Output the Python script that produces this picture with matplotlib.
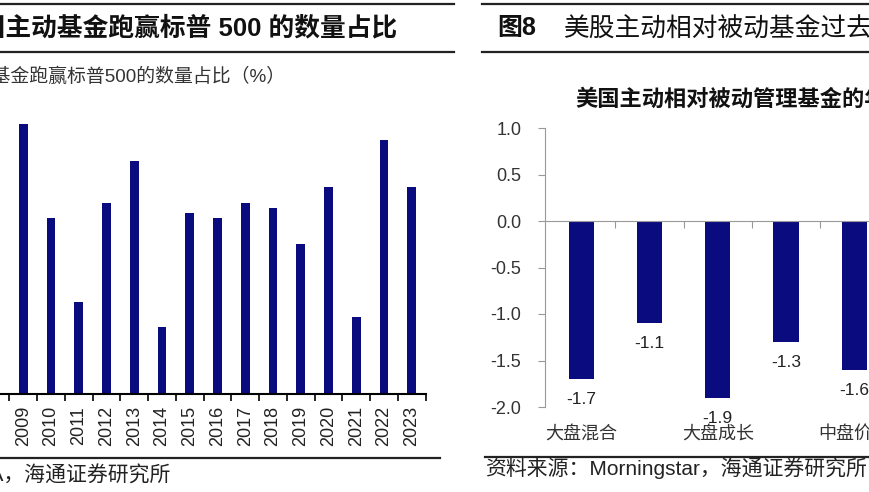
import matplotlib
matplotlib.use('Agg')
import matplotlib.pyplot as plt
from matplotlib.lines import Line2D
import matplotlib.transforms as mtransforms
import numpy as np

plt.rcParams['font.family'] = ['Liberation Sans', 'Noto Sans CJK SC']

# left panel: share of active funds beating the S&P 500 (%)
years = [str(y) for y in range(2008, 2024)]
beat_pct = [44.9, 52.9, 34.5, 18.0, 37.5, 45.7, 13.1, 35.5,
            34.5, 37.5, 36.5, 29.4, 40.6, 15.1, 49.8, 40.6]

# right panel: active vs passive excess return
styles = ['大盘混合', '大盘价值', '大盘成长', '中盘混合', '中盘价值']
excess = [-1.7, -1.1, -1.9, -1.3, -1.6]
ticks_y = [-2.0, -1.5, -1.0, -0.5, 0.0, 0.5, 1.0]

NAVY = '#0b0b80'
W, H = 870, 492


def fx(px):
    return px / W


def fy(py):
    return 1 - py / H


fig = plt.figure(figsize=(8.7, 4.92), dpi=100)

# ---- left chart
ax1 = fig.add_axes([fx(-18.3), fy(394), 443.9 / W, 306 / H])
x = np.arange(len(years))
ax1.bar(x, beat_pct, width=0.32, color=NAVY)
ax1.set_xlim(-0.5, len(years) - 0.5)
ax1.set_ylim(0, 60)
for s in ['top', 'right', 'left']:
    ax1.spines[s].set_visible(False)
ax1.spines['bottom'].set_linewidth(1.5)
ax1.set_yticks([])
ax1.set_xticks(np.arange(-0.5, len(years)), [''] * (len(years) + 1))
ax1.set_xticks(x, years, minor=True, rotation=90, fontsize=13, color='#222')
ax1.tick_params(axis='x', which='major', length=5, width=1.2, direction='out')
ax1.tick_params(axis='x', which='minor', length=0, pad=8.5)

# ---- right chart
ax2 = fig.add_axes([fx(545), fy(407), 343.5 / W, 279 / H])
xi = np.arange(len(styles))
ax2.bar(xi, excess, width=0.37, color=NAVY)
ax2.set_xlim(-0.53, len(styles) - 0.5)
ax2.set_ylim(-2, 1)
for s in ['top', 'right']:
    ax2.spines[s].set_visible(False)
ax2.spines['left'].set_color('#999999')
ax2.spines['bottom'].set_color('#999999')
ax2.spines['bottom'].set_position(('data', 0))
ax2.set_yticks(ticks_y, [f'{v:.1f}' for v in ticks_y])
ax2.tick_params(axis='y', length=5, color='#999999', pad=12,
                labelsize=13, labelcolor='#333333')
ax2.set_xticks(np.arange(0.5, len(styles) - 1), [])
ax2.tick_params(axis='x', length=5, color='#999999', direction='out')

trans = mtransforms.blended_transform_factory(ax2.transData, ax2.transAxes)
# only every other category label fits, as in the source chart
for i in range(0, len(styles), 2):
    ax2.text(i, -0.097, styles[i], transform=trans, ha='center', va='center',
             fontsize=13, color='#333333')
for i, v in enumerate(excess):
    ax2.annotate(f'{v:.1f}', (i, v), xytext=(0, -14.8), textcoords='offset points',
                 ha='center', va='center', fontsize=12.5, color='#222222')

# ---- titles, rules and sources
fig.text(fx(397), fy(28), '图7　美国主动基金跑赢标普 500 的数量占比',
         ha='right', va='center', fontsize=18.5, fontweight='bold', color='#111111')
fig.text(fx(497), fy(28), '图8', ha='left', va='center', fontsize=18,
         fontweight='bold', color='#111111')
fig.text(fx(564), fy(28), '美股主动相对被动基金过去10年的年化超额收益',
         ha='left', va='center', fontsize=18.5, color='#111111')
fig.text(fx(575), fy(100), '美国主动相对被动管理基金的年化超额收益（%）',
         ha='left', va='center', fontsize=16, fontweight='bold', color='#111111')
fig.text(fx(285), fy(77), '美国主动基金跑赢标普500的数量占比（%）',
         ha='right', va='center', fontsize=13.6, color='#333333')
fig.text(fx(170), fy(476), '资料来源：SPIVA，海通证券研究所',
         ha='right', va='center', fontsize=15, color='#222222')
fig.text(fx(485), fy(468), '资料来源：Morningstar，海通证券研究所',
         ha='left', va='center', fontsize=15, color='#222222')

rules = [(0, 454, 4), (0, 454, 52), (482, 870, 4), (482, 870, 52),
         (0, 440, 458), (485, 870, 457)]
for x0, x1, yy in rules:
    fig.add_artist(Line2D([fx(x0), fx(x1)], [fy(yy), fy(yy)], color='#222222',
                          lw=1.6, transform=fig.transFigure))

fig.savefig('out.png', dpi=100)
